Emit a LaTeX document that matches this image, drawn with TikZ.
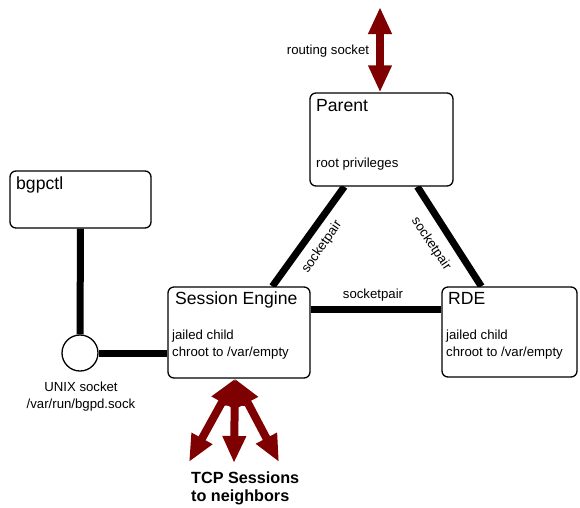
\documentclass[tikz,border=0pt]{standalone}
\usepackage{fontspec}
\setmainfont{Liberation Sans}
\usetikzlibrary{arrows.meta,backgrounds,calc}
\definecolor{sockred}{HTML}{7F0000}
\begin{document}
\begin{tikzpicture}[x=1pt,y=-1pt,
  procbox/.style={draw=black,line width=1.3pt,rounded corners=6pt,fill=white,inner sep=0pt},
  title/.style={font=\fontsize{17.6}{20}\selectfont,anchor=base west,inner sep=0pt},
  small/.style={font=\fontsize{13.2}{17}\selectfont,inner sep=0pt},
  link/.style={line width=7pt,line cap=butt},
  bigarrow/.style={sockred,line width=8pt,
    {Triangle[width=22pt,length=27pt]}-{Triangle[width=22pt,length=27pt]}}]
\useasboundingbox (0,0) rectangle (580,507);

% process boxes
\node[procbox,minimum width=141pt,minimum height=57pt] (ctl) at (80.5,199.5) {};
\node[procbox,minimum width=143pt,minimum height=93pt] (parent) at (381.5,139.5) {};
\node[procbox,minimum width=142pt,minimum height=91pt] (se) at (239,332.5) {};
\node[procbox,minimum width=135pt,minimum height=90pt] (rde) at (509.5,332) {};
\node[draw,line width=1.3pt,circle,minimum size=36pt,inner sep=0pt,fill=white] (unix) at (80,353) {};

% box texts
\node[title] at (16,189) {bgpctl};
\node[title] at (316,111) {Parent};
\node[small,anchor=base west] at (316,167) {root privileges};
\node[title] at (175,304) {Session Engine};
\node[small,anchor=base west] at (172,339) {jailed child};
\node[small,anchor=base west] at (172,356) {chroot to /var/empty};
\node[title] at (448,304) {RDE};
\node[small,anchor=base west] at (446,339) {jailed child};
\node[small,anchor=base west] at (446,356) {chroot to /var/empty};
\node[small,anchor=base] at (81,391) {UNIX socket};
\node[small,anchor=base] at (81,408) {/var/run/bgpd.sock};

% socket pair links
\begin{scope}[on background layer]
  \draw[link] (ctl.south) -- (unix.north);
  \draw[link] (unix.east) -- (se.west |- unix.east);
  \coordinate (seR) at ([yshift=23.5pt]se.east);
  \draw[link] (seR) -- (rde.west |- seR);
  \draw[link] ([xshift=35pt]parent.south west) -- ([xshift=105pt]se.north west);
  \draw[link] ([xshift=108pt]parent.south west) -- ([xshift=40pt]rde.north west);
\end{scope}
\node[small,rotate=55.5] at (322,247) {socketpair};
\node[small,rotate=-56] at (431,244) {socketpair};
\node[small,anchor=base] at (373,298) {socketpair};

% routing socket
\coordinate (rtop) at (380,7);
\draw[bigarrow] (rtop) -- (parent.north -| rtop);
\node[small,anchor=base] at (328,54) {routing socket};

% TCP sessions
\coordinate (apex) at ([xshift=-4pt]se.south);
\coordinate (t1) at (189,462);
\coordinate (t2) at (234,463);
\coordinate (t3) at (279,462);
\draw[bigarrow] (apex) -- (t1);
\draw[bigarrow] (apex) -- (t2);
\draw[bigarrow] (apex) -- (t3);
\node[font=\bfseries\fontsize{16.2}{18}\selectfont,anchor=base west,inner sep=0pt] at (191,483) {TCP Sessions};
\node[font=\bfseries\fontsize{16.2}{18}\selectfont,anchor=base west,inner sep=0pt] at (191,501) {to neighbors};
\end{tikzpicture}
\end{document}
